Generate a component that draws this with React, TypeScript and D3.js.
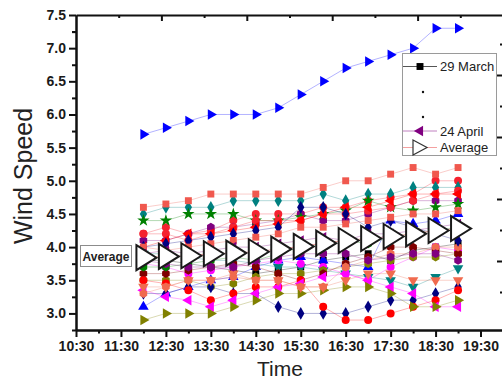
import { useEffect, useRef } from "react";
import {
  select,
  scaleLinear,
  axisLeft,
  axisBottom,
  line,
  symbol,
  symbolSquare,
  symbolCircle,
  symbolTriangle,
  symbolDiamond,
  symbolStar,
  range,
} from "d3";

// time stamps (half-hourly) and tick labels
const TIMES = ["12:00", "12:30", "13:00", "13:30", "14:00", "14:30", "15:00", "15:30", "16:00", "16:30", "17:00", "17:30", "18:00", "18:30", "19:00"];
const X_TICKS = ["10:30", "11:30", "12:30", "13:30", "14:30", "15:30", "16:30", "17:30", "18:30", "19:30"];
const Y_TICKS = [3.0, 3.5, 4.0, 4.5, 5.0, 5.5, 6.0, 6.5, 7.0, 7.5];

// daily wind speed series (29 March ... 24 April)
const mar29 = [3.8, 3.8, 3.75, 3.7, 3.65, 3.6, 3.65, 3.7, 3.8, 3.85, 3.9, 3.8, 3.95, 4.0, 4.05];
const redA = [4.2, 4.3, 4.2, 4.25, 4.4, 4.5, 4.5, 4.5, 4.6, 4.6, 4.7, 4.75, 4.8, 5.0, 5.0];
const blueUp = [3.1, 3.3, 3.4, 3.5, 3.55, 3.7, 3.8, 3.85, 3.8, 3.75, 3.7, 4.4, 4.35, 4.4, 4.5];
const tealDown = [3.9, 3.9, 3.85, 3.8, 3.8, 3.75, 3.7, 3.7, 3.65, 3.6, 3.55, 3.5, 3.4, 3.55, 3.68];
const magentaDia = [3.75, 3.7, 3.6, 3.65, 3.7, 3.75, 3.8, 3.75, 3.7, 3.6, 3.5, 3.7, 3.85, 4.0, 3.95];
const oliveHex = [3.5, 3.5, 3.5, 3.4, 3.45, 3.55, 3.6, 3.6, 3.65, 3.7, 3.75, 3.8, 3.85, 3.85, 3.9];
const navyDia = [3.3, 3.3, 3.4, 3.4, 3.3, 3.3, 3.1, 3.0, 3.0, 3.0, 3.1, 3.2, 3.2, 3.3, 3.4];
const purpleHi = [4.1, 4.1, 4.2, 4.3, 4.3, 4.35, 4.4, 4.5, 4.4, 4.4, 4.5, 4.6, 4.7, 4.7, 4.7];
const wine = [3.6, 3.6, 3.65, 3.7, 3.75, 3.7, 3.6, 3.5, 3.6, 3.75, 3.85, 4.0, 4.0, 3.95, 3.9];
const tealDia = [4.5, 4.6, 4.6, 4.6, 4.7, 4.7, 4.7, 4.7, 4.8, 4.7, 4.8, 4.8, 4.9, 4.9, 4.9];
const salmonSq = [4.6, 4.65, 4.7, 4.8, 4.8, 4.8, 4.8, 4.8, 4.9, 5.0, 5.0, 5.1, 5.2, 5.1, 5.2];
const greenStar = [4.4, 4.4, 4.5, 4.5, 4.5, 4.4, 4.4, 4.45, 4.5, 4.55, 4.7, 4.6, 4.55, 4.6, 4.65];
const redB = [4.2, 4.2, 4.1, 4.2, 4.3, 4.4, 4.4, 4.4, 4.5, 4.5, 4.55, 4.6, 4.7, 4.8, 4.85];
const redLeft = [4.0, 4.1, 4.2, 4.2, 4.25, 4.3, 4.35, 4.4, 4.5, 4.6, 4.6, 4.7, 4.8, 4.8, 4.8];
const redLow = [3.5, 3.45, 3.35, 3.2, 3.3, 3.4, 3.4, 3.5, 3.1, 2.9, 2.9, 3.0, 3.1, 3.2, 3.35];
const magentaLeft = [3.35, 3.25, 3.2, 3.1, 3.2, 3.3, 3.4, 3.45, 3.55, 3.6, 3.5, 3.4, 3.3, 3.1, 3.1];
const oliveRight = [2.9, 3.0, 3.0, 3.0, 3.1, 3.2, 3.3, 3.3, 3.35, 3.4, 3.4, 3.3, 3.1, 3.1, 3.2];
const salmonDown = [3.4, 3.4, 3.5, 3.5, 3.6, 3.5, 3.5, 3.4, 3.4, 3.5, 3.6, 3.6, 3.5, 3.5, 3.5];
const salmonHex = [3.3, 3.4, 3.5, 3.5, 3.55, 3.5, 3.5, 3.4, 3.4, 3.7, 3.8, 3.9, 3.9, 4.0, 4.0];
const greenHex = [3.7, 3.7, 3.75, 3.8, 3.85, 3.8, 3.9, 4.0, 4.05, 4.1, 4.05, 4.15, 4.2, 4.25, 4.3];
const navyHi = [4.0, 4.05, 4.1, 4.15, 4.2, 4.25, 4.3, 4.6, 4.6, 4.5, 4.3, 4.4, 4.3, 4.2, 4.1];
const salmonSqLow = [4.0, 3.95, 4.0, 4.05, 4.1, 4.15, 4.2, 4.3, 4.3, 4.35, 4.4, 4.45, 4.5, 4.5, 4.55];
const purpleLow = [3.8, 3.75, 3.7, 3.7, 3.7, 3.8, 3.85, 3.9, 3.9, 3.9, 3.8, 3.85, 3.9, 3.9, 3.8];
const blueTop = [5.7, 5.8, 5.9, 6.0, 6.0, 6.0, 6.1, 6.3, 6.5, 6.7, 6.8, 6.9, 7.0, 7.3, 7.3];
const apr24 = [3.9, 3.95, 3.9, 3.95, 4.0, 4.0, 4.05, 4.1, 4.15, 4.1, 4.2, 4.2, 4.25, 4.3, 4.35];
const average = [3.84, 3.86, 3.87, 3.9, 3.91, 3.93, 3.97, 4.01, 4.06, 4.1, 4.13, 4.16, 4.2, 4.25, 4.28];

type Mark = "square" | "circle" | "up" | "down" | "left" | "right" | "diamond" | "hex" | "star";

interface Series {
  values: number[];
  color: string;
  mark: Mark;
}

const SERIES: Series[] = [
  { values: mar29, color: "#000000", mark: "square" },
  { values: redA, color: "#f5222f", mark: "circle" },
  { values: blueUp, color: "#0000ff", mark: "up" },
  { values: tealDown, color: "#008080", mark: "down" },
  { values: magentaDia, color: "#ff00ff", mark: "circle" },
  { values: oliveHex, color: "#808000", mark: "hex" },
  { values: navyDia, color: "#000080", mark: "diamond" },
  { values: purpleHi, color: "#800080", mark: "hex" },
  { values: wine, color: "#800000", mark: "hex" },
  { values: tealDia, color: "#008080", mark: "diamond" },
  { values: salmonSq, color: "#f0584e", mark: "square" },
  { values: greenStar, color: "#008000", mark: "star" },
  { values: redB, color: "#f5222f", mark: "circle" },
  { values: redLeft, color: "#ff0000", mark: "left" },
  { values: redLow, color: "#ff0000", mark: "circle" },
  { values: magentaLeft, color: "#ff00ff", mark: "left" },
  { values: oliveRight, color: "#808000", mark: "right" },
  { values: salmonDown, color: "#f06a4e", mark: "down" },
  { values: salmonHex, color: "#f06a4e", mark: "hex" },
  { values: greenHex, color: "#008000", mark: "hex" },
  { values: navyHi, color: "#000080", mark: "diamond" },
  { values: salmonSqLow, color: "#f0584e", mark: "square" },
  { values: purpleLow, color: "#800080", mark: "hex" },
  { values: blueTop, color: "#0000ff", mark: "right" },
  { values: apr24, color: "#800080", mark: "left" },
];

const WIDTH = 502;
const HEIGHT = 383;
const PLOT = { left: 76, top: 15, right: 503, bottom: 330 };
const FONT = "'Liberation Sans', Arial, sans-serif";

const symbolHexagon = {
  draw(ctx: any, size: number) {
    const r = Math.sqrt(size / 2.598);
    for (let i = 0; i < 6; i++) {
      const a = (Math.PI / 3) * i + Math.PI / 6;
      const px = r * Math.cos(a);
      const py = r * Math.sin(a);
      if (i === 0) ctx.moveTo(px, py);
      else ctx.lineTo(px, py);
    }
    ctx.closePath();
  },
};

const MARKS: Record<Mark, { type: any; rotate: number; size: number }> = {
  square: { type: symbolSquare, rotate: 0, size: 48 },
  circle: { type: symbolCircle, rotate: 0, size: 50 },
  hex: { type: symbolHexagon, rotate: 0, size: 50 },
  diamond: { type: symbolDiamond, rotate: 0, size: 46 },
  star: { type: symbolStar, rotate: 0, size: 48 },
  up: { type: symbolTriangle, rotate: 0, size: 48 },
  down: { type: symbolTriangle, rotate: 180, size: 48 },
  left: { type: symbolTriangle, rotate: -90, size: 48 },
  right: { type: symbolTriangle, rotate: 90, size: 48 },
};

const toMinutes = (t: string) => {
  const [h, m] = t.split(":").map(Number);
  return h * 60 + m;
};

export default function App() {
  const svgRef = useRef<SVGSVGElement | null>(null);

  useEffect(() => {
    const svg = svgRef.current;
    if (!svg) return;
    select(svg).selectAll("*").remove();
    const root = select(svg).attr("width", WIDTH).attr("height", HEIGHT);

    const x = scaleLinear().domain([630, 1200]).range([PLOT.left, PLOT.right]);
    const y = scaleLinear().domain([2.75, 7.5]).range([PLOT.bottom, PLOT.top]);
    const times = TIMES.map(toMinutes);

    root.append("rect").attr("width", WIDTH).attr("height", HEIGHT).attr("fill", "#ffffff");

    const styleAxis = (sel: any) => {
      sel.select(".domain").attr("stroke", "#111").attr("stroke-width", 2);
      sel.selectAll(".tick line").attr("stroke", "#111").attr("stroke-width", 2);
      sel
        .selectAll("text")
        .attr("fill", "#1a1a1a")
        .attr("font-family", FONT)
        .attr("font-size", "14px")
        .attr("font-weight", "bold");
    };

    // top frame with its own (neighbour) tick spacing
    const topScale = scaleLinear().domain([0, 10]).range([PLOT.left, PLOT.right]);
    root
      .append("g")
      .attr("transform", `translate(0,${PLOT.top})`)
      .call(axisBottom(topScale).tickValues(range(1, 10)).tickSize(3).tickSizeOuter(0).tickFormat(() => ""))
      .call(styleAxis)
      .call((sel) => sel.selectAll(".tick line").attr("y2", (d: any) => (d % 2 === 0 ? 6 : 3)));

    // ticks of the neighbouring panel on the right edge
    const edgeScale = scaleLinear().domain([0, 8]).range([44, 292]);
    root
      .append("g")
      .attr("transform", `translate(${PLOT.right},0)`)
      .call(axisLeft(edgeScale).tickValues(range(0, 9)).tickSize(3).tickSizeOuter(0).tickFormat(() => ""))
      .call(styleAxis)
      .call((sel) => sel.selectAll(".tick line").attr("x2", (d: any) => (d % 2 === 1 ? -6 : -3)));

    // series lines
    const lineGen = line<number>()
      .x((_, i) => x(times[i]))
      .y((d) => y(d));

    SERIES.forEach((s) => {
      root
        .append("path")
        .attr("d", lineGen(s.values))
        .attr("fill", "none")
        .attr("stroke", s.color)
        .attr("stroke-opacity", 0.3)
        .attr("stroke-width", 1);
    });

    SERIES.forEach((s) => {
      const m = MARKS[s.mark];
      const path = symbol().type(m.type).size(m.size)();
      root
        .append("g")
        .selectAll("path")
        .data(s.values)
        .enter()
        .append("path")
        .attr("d", path)
        .attr("transform", (d, i) => `translate(${x(times[i])},${y(d)}) rotate(${m.rotate})`)
        .attr("fill", s.color);
    });

    // average
    root
      .append("path")
      .attr("d", lineGen(average))
      .attr("fill", "none")
      .attr("stroke", "#f4a0a0")
      .attr("stroke-width", 1);
    root
      .append("g")
      .selectAll("path")
      .data(average)
      .enter()
      .append("path")
      .attr("d", "M-7,-12.5L13,0L-7,12.5Z")
      .attr("transform", (d, i) => `translate(${x(times[i])},${y(d)})`)
      .attr("fill", "#ffffff")
      .attr("stroke", "#1a1a1a")
      .attr("stroke-width", 2)
      .attr("stroke-linejoin", "miter");

    // axes
    root
      .append("g")
      .attr("transform", `translate(${PLOT.left},0)`)
      .call(axisLeft(y).tickValues(Y_TICKS.map((v) => v - 0.25).concat([7.25])).tickSize(4).tickSizeOuter(0).tickFormat(() => ""))
      .call(styleAxis);
    root
      .append("g")
      .attr("transform", `translate(${PLOT.left},0)`)
      .call(axisLeft(y).tickValues(Y_TICKS).tickSize(7).tickSizeOuter(0).tickPadding(3).tickFormat((v: any) => Number(v).toFixed(1)))
      .call(styleAxis);

    const xMajor = X_TICKS.map(toMinutes);
    root
      .append("g")
      .attr("transform", `translate(0,${PLOT.bottom})`)
      .call(axisBottom(x).tickValues(xMajor.map((v) => v + 30)).tickSize(3.5).tickSizeOuter(0).tickFormat(() => ""))
      .call(styleAxis);
    root
      .append("g")
      .attr("transform", `translate(0,${PLOT.bottom})`)
      .call(axisBottom(x).tickValues(xMajor).tickSize(7).tickSizeOuter(0).tickPadding(4).tickFormat((_, i) => X_TICKS[i]))
      .call(styleAxis);

    // axis titles
    root
      .append("text")
      .attr("transform", `translate(32,176) rotate(-90)`)
      .attr("text-anchor", "middle")
      .attr("font-family", FONT)
      .attr("font-size", "25px")
      .attr("fill", "#222")
      .text("Wind Speed");
    root
      .append("text")
      .attr("x", 280)
      .attr("y", 376)
      .attr("text-anchor", "middle")
      .attr("font-family", FONT)
      .attr("font-size", "21px")
      .attr("fill", "#222")
      .text("Time");

    // "Average" tag on the left
    root
      .append("rect")
      .attr("x", 80.5)
      .attr("y", 245.5)
      .attr("width", 51)
      .attr("height", 21)
      .attr("fill", "#fff")
      .attr("stroke", "#8c8c8c");
    root
      .append("text")
      .attr("x", 106)
      .attr("y", 260.5)
      .attr("text-anchor", "middle")
      .attr("font-family", FONT)
      .attr("font-size", "12px")
      .attr("font-weight", "bold")
      .attr("fill", "#222")
      .text("Average");

    // legend
    const lg = root.append("g");
    lg.append("rect")
      .attr("x", 402.5)
      .attr("y", 53.5)
      .attr("width", 94)
      .attr("height", 102)
      .attr("fill", "#fff")
      .attr("stroke", "#9a9a9a");
    const rows = [
      { yy: 66.5, label: "29 March", color: "#000000", mark: "square" as Mark, lineColor: "#555" },
      { yy: 131, label: "24 April", color: "#800080", mark: "left" as Mark, lineColor: "#c080c0" },
    ];
    rows.forEach((r) => {
      lg.append("line").attr("x1", 403).attr("x2", 437).attr("y1", r.yy).attr("y2", r.yy).attr("stroke", r.lineColor);
      const m = MARKS[r.mark];
      lg.append("path")
        .attr("d", symbol().type(m.type).size(m.size)())
        .attr("transform", `translate(420,${r.yy}) rotate(${m.rotate})`)
        .attr("fill", r.color);
      lg.append("text")
        .attr("x", 440)
        .attr("y", r.yy + 4.5)
        .attr("font-family", FONT)
        .attr("font-size", "13px")
        .attr("fill", "#222")
        .text(r.label);
    });
    [92, 117].forEach((yy) => {
      lg.append("circle").attr("cx", 423).attr("cy", yy).attr("r", 1.2).attr("fill", "#111");
    });
    lg.append("line").attr("x1", 403).attr("x2", 437).attr("y1", 147.5).attr("y2", 147.5).attr("stroke", "#f4a0a0");
    lg.append("path")
      .attr("d", "M-6,-7.5L8,0L-6,7.5Z")
      .attr("transform", `translate(419,147.5)`)
      .attr("fill", "#fff")
      .attr("stroke", "#333")
      .attr("stroke-width", 1.2);
    lg.append("text")
      .attr("x", 440)
      .attr("y", 152)
      .attr("font-family", FONT)
      .attr("font-size", "13px")
      .attr("fill", "#222")
      .text("Average");
  }, []);

  return (
    <div style={{ position: "absolute", left: 0, top: 0 }}>
      <svg ref={svgRef} style={{ display: "block" }} />
    </div>
  );
}
